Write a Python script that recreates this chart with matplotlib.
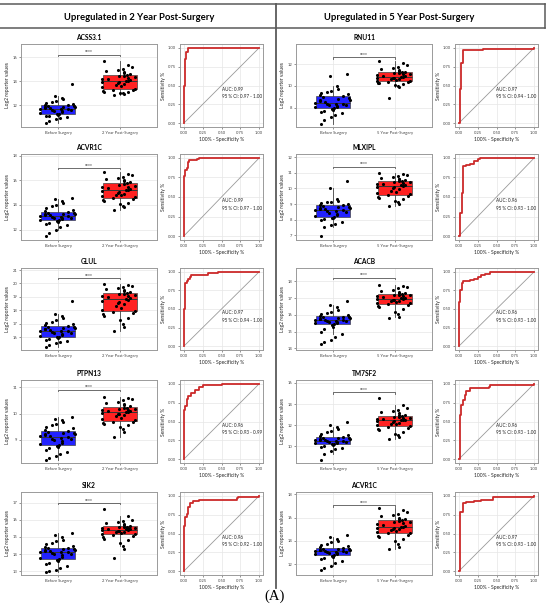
import matplotlib
matplotlib.use("Agg")
import matplotlib.pyplot as plt
import numpy as np

plt.rcParams['font.family'] = ['Lato', 'DejaVu Sans']

W, H = 550, 611

# ---------------- data ----------------
genes_2y = ["ACSS3.1", "ACVR1C", "GLUL", "PTPN13", "SIK2"]
genes_5y = ["RNU11", "MLXIPL", "ACACB", "TM7SF2", "ACVR1C"]
group_labels_2y = ["Before Surgery", "2 Year Post-Surgery"]
group_labels_5y = ["Before Surgery", "5 Year Post-Surgery"]
sig_label = "****"

acss31_before = [10.5,10.7,10.85,10.95,11.0,11.1,11.15,11.2,11.28,11.32,11.38,11.45,11.5,11.52,11.58,11.62,11.66,11.7,
                 11.72,11.76,11.8,11.84,11.88,11.9,11.94,11.97,12.0,12.05,12.12,12.2,12.28,12.38,12.5,12.6,12.75,13.8]
acss31_after = [12.9,12.95,13.0,13.05,13.1,13.15,13.2,13.25,13.3,13.4,13.5,13.6,13.68,13.75,13.82,13.9,13.95,14.0,
                14.05,14.1,14.16,14.22,14.28,14.34,14.4,14.45,14.5,14.58,14.66,14.75,14.85,14.95,15.05,15.2,15.35,15.7]
acvr1c2_before = [11.5,11.7,12.0,12.2,12.35,12.45,12.55,12.62,12.7,12.75,12.8,12.86,12.9,12.95,12.98,13.02,13.05,13.08,
                  13.12,13.16,13.2,13.24,13.28,13.3,13.34,13.37,13.4,13.5,13.62,13.75,13.88,14.0,14.15,14.3,14.45,14.55]
acvr1c2_after = [13.6,13.8,13.95,14.1,14.2,14.3,14.4,14.48,14.55,14.62,14.7,14.78,14.85,14.92,15.0,15.08,15.14,15.2,
                 15.26,15.32,15.38,15.44,15.5,15.56,15.62,15.7,15.77,15.85,15.93,16.0,16.1,16.2,16.3,16.45,16.55,16.7]
glul_before = [15.25,15.4,15.55,15.65,15.75,15.82,15.88,15.94,15.99,16.05,16.12,16.18,16.24,16.3,16.35,16.4,16.43,16.45,
               16.5,16.54,16.58,16.62,16.66,16.7,16.74,16.77,16.8,16.88,16.97,17.05,17.15,17.25,17.4,17.55,17.7,18.7]
glul_after = [16.5,16.75,17.0,17.25,17.45,17.6,17.7,17.8,17.88,17.95,18.05,18.15,18.3,18.45,18.55,18.65,18.72,18.8,
              18.86,18.92,18.98,19.04,19.1,19.15,19.2,19.25,19.3,19.38,19.45,19.52,19.6,19.68,19.75,19.8,19.86,19.93]
ptpn13_before = [8.24,8.32,8.4,8.48,8.55,8.62,8.68,8.72,8.77,8.82,8.86,8.9,8.94,8.98,9.02,9.05,9.08,9.11,
                 9.14,9.16,9.19,9.21,9.23,9.25,9.27,9.3,9.32,9.38,9.44,9.5,9.56,9.62,9.68,9.74,9.8,9.86]
ptpn13_after = [9.1,9.3,9.42,9.5,9.56,9.6,9.64,9.67,9.7,9.75,9.8,9.85,9.9,9.94,9.97,10.0,10.03,10.05,
                10.07,10.09,10.11,10.13,10.15,10.17,10.19,10.21,10.23,10.28,10.32,10.36,10.4,10.45,10.5,10.55,10.6,10.65]
sik2_before = [12.95,13.0,13.1,13.2,13.3,13.4,13.5,13.58,13.64,13.7,13.78,13.85,13.92,13.98,14.03,14.07,14.1,14.12,
               14.15,14.18,14.2,14.23,14.26,14.28,14.3,14.33,14.35,14.42,14.5,14.58,14.66,14.75,14.85,14.97,15.1,15.23]
sik2_after = [13.8,14.3,14.5,14.65,14.8,14.9,14.98,15.05,15.12,15.16,15.2,15.24,15.28,15.31,15.34,15.37,15.4,15.42,
              15.44,15.46,15.48,15.5,15.52,15.54,15.56,15.58,15.6,15.65,15.7,15.75,15.8,15.86,15.93,16.0,16.2,16.6]

rnu11_before = [6.5,6.9,7.2,7.4,7.55,7.65,7.75,7.85,7.92,7.98,8.05,8.12,8.18,8.24,8.28,8.32,8.36,8.39,
                8.45,8.52,8.6,8.68,8.76,8.84,8.92,9.0,9.08,9.15,9.25,9.35,9.45,9.55,9.7,10.0,10.9,11.1]
rnu11_after = [8.9,9.9,10.0,10.1,10.18,10.25,10.3,10.35,10.4,10.45,10.5,10.55,10.6,10.65,10.7,10.74,10.77,10.8,
               10.85,10.9,10.95,11.0,11.05,11.1,11.15,11.2,11.24,11.3,11.38,11.46,11.55,11.65,11.75,11.9,12.1,12.3]
mlxipl_before = [6.95,7.5,7.65,7.75,7.85,7.95,8.02,8.08,8.12,8.18,8.25,8.32,8.38,8.44,8.5,8.54,8.57,8.6,
                 8.63,8.66,8.69,8.72,8.76,8.8,8.84,8.88,8.91,8.95,9.0,9.05,9.1,9.15,9.22,9.3,10.0,10.45]
mlxipl_after = [8.9,9.0,9.1,9.2,9.3,9.38,9.44,9.5,9.55,9.62,9.7,9.78,9.86,9.94,10.0,10.06,10.11,10.15,
                10.19,10.23,10.27,10.31,10.35,10.39,10.42,10.45,10.48,10.53,10.58,10.63,10.68,10.74,10.8,10.86,10.93,11.0]
acacb_before = [14.23,14.35,14.5,14.7,14.85,15.0,15.15,15.3,15.4,15.45,15.5,15.54,15.58,15.6,15.62,15.64,15.66,15.68,
                15.7,15.72,15.75,15.78,15.8,15.83,15.85,15.88,15.9,15.95,16.0,16.06,16.12,16.2,16.3,16.45,16.6,16.8]
acacb_after = [15.8,15.9,16.05,16.2,16.35,16.45,16.52,16.58,16.64,16.68,16.72,16.76,16.8,16.84,16.87,16.9,16.93,16.95,
               16.98,17.02,17.06,17.1,17.13,17.16,17.19,17.21,17.23,17.28,17.33,17.38,17.43,17.5,17.58,17.66,17.74,17.8]
tm7sf2_before = [8.65,9.3,9.5,9.7,9.85,9.95,10.05,10.12,10.2,10.25,10.3,10.34,10.37,10.4,10.43,10.46,10.48,10.5,
                 10.54,10.58,10.62,10.66,10.7,10.74,10.78,10.82,10.87,10.95,11.05,11.15,11.3,11.45,11.6,11.8,12.0,12.28]
tm7sf2_after = [10.72,10.9,11.05,11.2,11.35,11.5,11.62,11.72,11.82,11.9,11.98,12.06,12.14,12.22,12.3,12.36,12.4,12.44,
                12.48,12.52,12.56,12.6,12.64,12.68,12.73,12.78,12.84,12.92,13.0,13.1,13.2,13.3,13.45,13.6,13.9,14.56]
acvr1c5_before = [11.5,11.65,11.85,12.1,12.3,12.45,12.55,12.65,12.73,12.78,12.84,12.9,12.95,12.99,13.02,13.05,13.08,13.1,
                  13.13,13.16,13.19,13.22,13.25,13.28,13.31,13.34,13.38,13.45,13.55,13.65,13.75,13.88,14.0,14.15,14.3,14.47]
acvr1c5_after = [13.3,13.5,13.75,14.0,14.2,14.35,14.45,14.55,14.65,14.72,14.8,14.88,14.95,15.0,15.05,15.1,15.13,15.16,
                 15.22,15.3,15.38,15.45,15.52,15.6,15.66,15.72,15.78,15.85,15.92,16.0,16.1,16.2,16.35,16.5,16.65,16.8]

# ROC curves (FPR, TPR)
roc_acss31_fpr = [0, 0, 0.01, 0.01, 0.03, 0.03, 0.05, 0.06, 1.0]
roc_acss31_tpr = [0, 0.5, 0.55, 0.85, 0.9, 0.95, 0.97, 1.0, 1.0]
roc_acvr1c2_fpr = [0, 0, 0.02, 0.02, 0.04, 0.05, 0.07, 0.18, 0.2, 1.0]
roc_acvr1c2_tpr = [0, 0.77, 0.78, 0.85, 0.87, 0.95, 0.97, 0.98, 1.0, 1.0]
roc_glul_fpr = [0, 0, 0.02, 0.04, 0.06, 0.08, 0.1, 0.3, 0.32, 0.45, 0.45, 1.0]
roc_glul_tpr = [0, 0.5, 0.85, 0.87, 0.9, 0.93, 0.95, 0.96, 0.98, 0.99, 1.0, 1.0]
roc_ptpn13_fpr = [0, 0, 0.02, 0.04, 0.06, 0.1, 0.15, 0.2, 0.25, 0.5, 0.5, 1.0]
roc_ptpn13_tpr = [0, 0.65, 0.7, 0.8, 0.84, 0.88, 0.92, 0.96, 0.98, 0.98, 1.0, 1.0]
roc_sik2_fpr = [0, 0, 0.02, 0.04, 0.05, 0.08, 0.12, 0.2, 0.7, 0.72, 1.0]
roc_sik2_tpr = [0, 0.6, 0.72, 0.76, 0.85, 0.9, 0.93, 0.95, 0.97, 0.99, 1.0]
roc_rnu11_fpr = [0, 0.01, 0.01, 0.03, 0.03, 0.05, 0.06, 0.3, 0.32, 1.0]
roc_rnu11_tpr = [0, 0.2, 0.45, 0.5, 0.8, 0.9, 0.97, 0.97, 0.99, 1.0]
roc_mlxipl_fpr = [0, 0.02, 0.04, 0.05, 0.06, 0.1, 0.15, 0.2, 0.25, 0.28, 1.0]
roc_mlxipl_tpr = [0, 0.3, 0.55, 0.85, 0.9, 0.91, 0.92, 0.96, 0.99, 1.0, 1.0]
roc_acacb_fpr = [0, 0, 0.02, 0.04, 0.06, 0.15, 0.2, 0.25, 0.3, 0.35, 0.42, 1.0]
roc_acacb_tpr = [0, 0.6, 0.75, 0.85, 0.88, 0.89, 0.9, 0.93, 0.95, 0.97, 0.99, 1.0]
roc_tm7sf2_fpr = [0, 0.01, 0.02, 0.03, 0.06, 0.08, 0.1, 0.15, 0.4, 0.42, 1.0]
roc_tm7sf2_tpr = [0, 0.35, 0.58, 0.72, 0.78, 0.85, 0.9, 0.95, 0.96, 0.99, 1.0]
roc_acvr1c5_fpr = [0, 0.01, 0.03, 0.05, 0.06, 0.1, 0.2, 0.3, 0.45, 1.0]
roc_acvr1c5_tpr = [0, 0.78, 0.79, 0.82, 0.9, 0.92, 0.93, 0.95, 0.99, 1.0]

auc_2y = ["0.99", "0.99", "0.97", "0.96", "0.96"]
ci_2y = ["0.97 - 1.00", "0.97 - 1.00", "0.94 - 1.00", "0.93 - 0.99", "0.92 - 1.00"]
auc_5y = ["0.97", "0.96", "0.96", "0.96", "0.97"]
ci_5y = ["0.94 - 1.00", "0.93 - 1.00", "0.93 - 1.00", "0.93 - 1.00", "0.93 - 1.00"]

roc_ticks = [0.0, 0.25, 0.5, 0.75, 1.0]
roc_tick_labels = ["0.00", "0.25", "0.50", "0.75", "1.00"]

yticks_2y = [[12, 14, 16], [12, 14, 16, 18], [16, 17, 18, 19, 20, 21], [9, 10, 11], [13, 14, 15, 16, 17]]
yticks_5y = [[8, 10, 12], [7, 8, 9, 10, 11, 12], [14, 15, 16, 17, 18], [10, 12, 14, 16], [12, 14, 16, 18]]

# ---------------- layout ----------------
ylims_2y = [(10.2, 17.1), (11.15, 18.15), (15.05, 21.15), (8.12, 11.28), (12.78, 17.62)]
ylims_5y = [(6.26, 13.83), (6.7, 12.2), (13.9, 18.8), (8.4, 16.28), (11.08, 18.2)]
bracket_2y = [16.2, 17.0, 20.4, 10.9, 16.97]
bracket_5y = [12.6, 11.4, 18.2, 15.1, 17.05]

row_top = [44, 154, 268, 380, 492]
row_bot = [127, 240, 350, 463, 575]

fig = plt.figure(figsize=(W / 100, H / 100), dpi=100)
fig.patch.set_facecolor("white")


def rect(x0, y0, x1, y1):
    return [x0 / W, 1 - y1 / H, (x1 - x0) / W, (y1 - y0) / H]


# background frame
bg = fig.add_axes([0, 0, 1, 1])
bg.set_xlim(0, W)
bg.set_ylim(H, 0)
bg.axis("off")
lc = "#5a5a5a"
bg.plot([0, 545], [4, 4], color=lc, lw=1.1)
bg.plot([0, 545], [28, 28], color=lc, lw=1.1)
bg.plot([276, 276], [4, 588], color=lc, lw=1.3)
bg.plot([545, 545], [4, 28], color=lc, lw=1.1)
bg.text(139, 17, "Upregulated in 2 Year Post-Surgery", ha="center", va="center",
        fontsize=6.8, fontweight="bold")
bg.text(399, 17, "Upregulated in 5 Year Post-Surgery", ha="center", va="center",
        fontsize=6.8, fontweight="bold")
bg.text(275, 596, "(A)", ha="center", va="center", fontsize=10.5,
        family=["Liberation Serif", "DejaVu Serif"])

BLUE = "#2222ff"
RED = "#ff2222"
GRID = "#e6e6e6"
SPINE = "#9a9a9a"
TICK_FS = 3.0
LAB_FS = 3.6


def style_axes(ax):
    ax.set_facecolor("white")
    for s in ax.spines.values():
        s.set_color(SPINE)
        s.set_linewidth(0.7)
    ax.grid(True, color=GRID, lw=0.5)
    ax.set_axisbelow(True)
    ax.tick_params(labelsize=TICK_FS, length=1.5, width=0.4, color="#444444", pad=1.2,
                   labelcolor="#444444")


def jitter(n, salt):
    # deterministic hash-based horizontal spread (position only, not data)
    i = np.arange(n) + salt
    u = np.mod(np.abs(np.sin(i * 12.9898 + 78.233)) * 43758.5453, 1.0)
    return 0.3 * (2 * u - 1)


def draw_box(ax, title, before, after, labels, yt, ylim, yb):
    style_axes(ax)
    bp = ax.boxplot([before, after], positions=[1, 2], widths=0.55, patch_artist=True,
                    showfliers=False, whis=1.5,
                    medianprops=dict(color="#333333", lw=0.7),
                    whiskerprops=dict(color="#444444", lw=0.6),
                    capprops=dict(lw=0),
                    boxprops=dict(edgecolor="#444444", lw=0.5))
    bp["boxes"][0].set_facecolor(BLUE)
    bp["boxes"][1].set_facecolor(RED)
    for k, vals in enumerate([before, after]):
        xs = k + 1 + jitter(len(vals), 0.0 if k == 0 else 57.0)
        ax.scatter(xs, vals, s=5, color="black", zorder=5, linewidths=0)
    # significance bracket
    span = ylim[1] - ylim[0]
    d = span * 0.015
    ax.plot([1, 1, 2, 2], [yb - d, yb, yb, yb - d], color="#555555", lw=0.6)
    ax.text(1.5, yb + span * 0.005, sig_label, ha="center", va="bottom", fontsize=3.3)
    ax.set_xlim(0.4, 2.6)
    ax.set_ylim(*ylim)
    ax.set_yticks(yt)
    ax.set_xticks([1, 2])
    ax.set_xticklabels(labels)
    ax.set_ylabel("Log2 reporter values", fontsize=LAB_FS, labelpad=2, color="#222222")
    ax.set_title(title, fontsize=4.8, fontweight="bold", pad=3)


def draw_roc(ax, fpr, tpr, auc, ci):
    style_axes(ax)
    ax.plot([0, 1], [0, 1], color="#9a9a9a", lw=0.6)
    ax.step(fpr, tpr, where="post", color="#cc2a2a", lw=1.3)
    ax.set_xlim(-0.05, 1.05)
    ax.set_ylim(-0.05, 1.05)
    ax.set_xticks(roc_ticks)
    ax.set_xticklabels(roc_tick_labels)
    ax.set_yticks(roc_ticks)
    ax.set_yticklabels(roc_tick_labels)
    ax.set_xlabel("100% - Specificity %", fontsize=LAB_FS, labelpad=1.5, color="#222222")
    ax.set_ylabel("Sensitivity %", fontsize=LAB_FS, labelpad=1.5, color="#222222")
    ax.text(0.5, 0.45, f"AUC: {auc}", fontsize=3.3, ha="left", va="center", color="#222222")
    ax.text(0.5, 0.35, f"95 % CI: {ci}", fontsize=3.3, ha="left", va="center", color="#222222")


data_2y = [(acss31_before, acss31_after), (acvr1c2_before, acvr1c2_after), (glul_before, glul_after),
           (ptpn13_before, ptpn13_after), (sik2_before, sik2_after)]
data_5y = [(rnu11_before, rnu11_after), (mlxipl_before, mlxipl_after), (acacb_before, acacb_after),
           (tm7sf2_before, tm7sf2_after), (acvr1c5_before, acvr1c5_after)]
roc_2y = [(roc_acss31_fpr, roc_acss31_tpr), (roc_acvr1c2_fpr, roc_acvr1c2_tpr), (roc_glul_fpr, roc_glul_tpr),
          (roc_ptpn13_fpr, roc_ptpn13_tpr), (roc_sik2_fpr, roc_sik2_tpr)]
roc_5y = [(roc_rnu11_fpr, roc_rnu11_tpr), (roc_mlxipl_fpr, roc_mlxipl_tpr), (roc_acacb_fpr, roc_acacb_tpr),
          (roc_tm7sf2_fpr, roc_tm7sf2_tpr), (roc_acvr1c5_fpr, roc_acvr1c5_tpr)]

columns = [
    (0, genes_2y, group_labels_2y, data_2y, roc_2y, auc_2y, ci_2y, yticks_2y, ylims_2y, bracket_2y),
    (275, genes_5y, group_labels_5y, data_5y, roc_5y, auc_5y, ci_5y, yticks_5y, ylims_5y, bracket_5y),
]

for off, genes, labels, data, rocs, aucs, cis, yts, ylims, brs in columns:
    for r in range(5):
        axb = fig.add_axes(rect(off + 21, row_top[r], off + 157, row_bot[r]))
        draw_box(axb, genes[r], data[r][0], data[r][1], labels, yts[r], ylims[r], brs[r])
        axr = fig.add_axes(rect(off + 180, row_top[r], off + 263, row_bot[r]))
        draw_roc(axr, rocs[r][0], rocs[r][1], aucs[r], cis[r])

fig.savefig("out.png", dpi=100)
